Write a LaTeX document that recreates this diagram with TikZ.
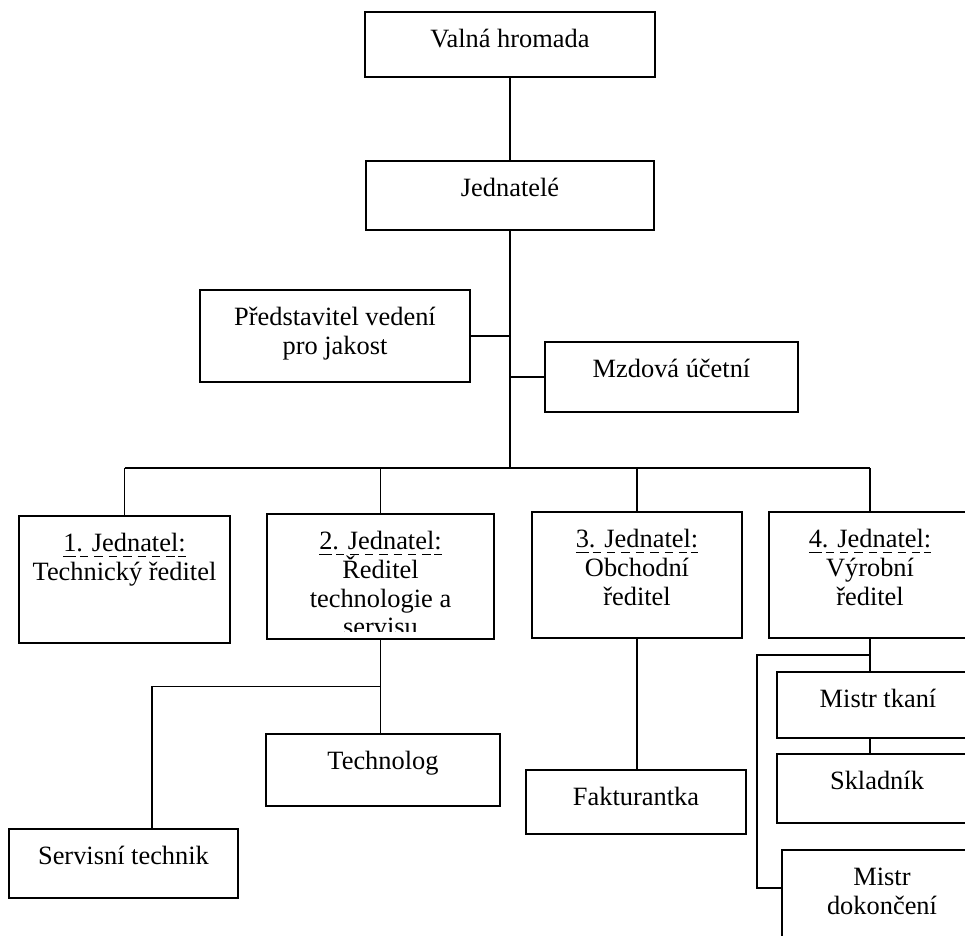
\documentclass[tikz,border=0pt]{standalone}
\usepackage{fontspec}
\setmainfont{Liberation Serif}
\usetikzlibrary{positioning, calc}

\newdimen\pxu \pxu=0.4545pt
\newsavebox\ulbox
% solid and dashed underline
\newcommand{\sul}[1]{\sbox\ulbox{#1}\rlap{\rule[-2.3pt]{\wd\ulbox}{0.5pt}}\usebox\ulbox}
\newcommand{\dul}[1]{\sbox\ulbox{#1}\rlap{\hbox to \wd\ulbox{\xleaders\hbox to 6pt{\hss\rule[-2.3pt]{3.8pt}{0.5pt}\hss}\hfill}}\usebox\ulbox}
% text box: width, height, text (top aligned)
\newcommand{\boxtxt}[3]{\parbox[c][#2\pxu][t]{#1\pxu}{\centering\rule{0pt}{16.3pt}#3}}

\begin{document}
\begin{tikzpicture}[x=\pxu, y=-\pxu,
        box/.style={draw, line width=0.8pt, inner sep=0pt, font=\fontsize{12}{13}\selectfont},
        link/.style={line width=0.75pt}
    ]
        \useasboundingbox (0,0) rectangle (965,935);
        \clip (0,0) rectangle (965,935);

        % Top levels
        \node[box] (valna) at (510,44.5) {\boxtxt{290}{65}{Valná hromada}};
        \node[box] (jed) at (510,195.5) {\boxtxt{288}{69}{Jednatelé}};
        \node[box] (predst) at (335,336) {\boxtxt{270}{92}{Představitel vedení\\ pro jakost}};
        \node[box] (mzda) at (671.5,377) {\boxtxt{253}{70}{Mzdová účetní}};

        % Jednatele
        \node[box] (j1) at (124.5,579.5) {\boxtxt{211}{127}{\sul{1}\dul{. Jednatel}\sul{:}\\ Technický ředitel}};
        \node[box, minimum width=227*\pxu, minimum height=125*\pxu] (j2) at (380.5,576.5) {};
        \begin{scope}
            \clip (j2.north west) rectangle ($(j2.south east)+(0,-8)$);
            \node[box, draw=none, anchor=north] (j2text) at (j2.north) {\boxtxt{227}{125}{\sul{2}\dul{. Jednatel}\sul{:}\\ Ředitel\\ technologie a\\ servisu}};
        \end{scope}
        \node[box] (j3) at (637,575) {\boxtxt{210}{126}{\sul{3}\dul{. Jednatel}\sul{:}\\ Obchodní\\ ředitel}};
        \node[box] (j4) at (870,575) {\boxtxt{202}{126}{\sul{4}\dul{. Jednatel}\sul{:}\\ Výrobní\\ ředitel}};

        % Staff
        \node[box] (tech) at (383,770) {\boxtxt{234}{72}{Technolog}};
        \node[box] (serv) at (123.5,863.5) {\boxtxt{229}{69}{Servisní technik}};
        \node[box] (fakt) at (636,802) {\boxtxt{220}{64}{Fakturantka}};
        \node[box] (tkani) at (878,705) {\boxtxt{202}{66}{Mistr tkaní}};
        \node[box] (sklad) at (877,788.5) {\boxtxt{200}{69}{Skladník}};
        \node[box] (dokon) at (882,905) {\boxtxt{200}{110}{Mistr\\ dokončení}};

        % Lines
        \coordinate (bus) at (510,468);
        \draw[link] (valna) -- (jed);
        \draw[link] (jed.south) -- (bus);
        \draw[link] (predst.east) -- (predst.east -| bus);
        \draw[link] (mzda.west) -- (mzda.west -| bus);
        \draw[link] (j1.north |- bus) -- (j4.north |- bus);
        \foreach \j in {j1,j2,j3,j4}
            \draw[link] (\j.north |- bus) -- (\j.north);

        \coordinate (fork2) at ($(j2.south)!0.5!(j2.south |- tech.north)$);
        \draw[link] (j2.south) -- (j2.south |- tech.north);
        \draw[link] (fork2) -| ($(serv.north)+(28.5,0)$);

        \draw[link] (j3.south) -- (j3.south |- fakt.north);

        \coordinate (fork4) at ($(j4.south)!0.5!(j4.south |- tkani.north)$);
        \draw[link] (j4.south) -- (j4.south |- tkani.north);
        \draw[link] (j4.south |- tkani.south) -- (j4.south |- sklad.north);
        \draw[link] (fork4) -| ($(dokon.west)+(-24,-17)$) -- ($(dokon.west)+(0,-17)$);
    \end{tikzpicture}
\end{document}
